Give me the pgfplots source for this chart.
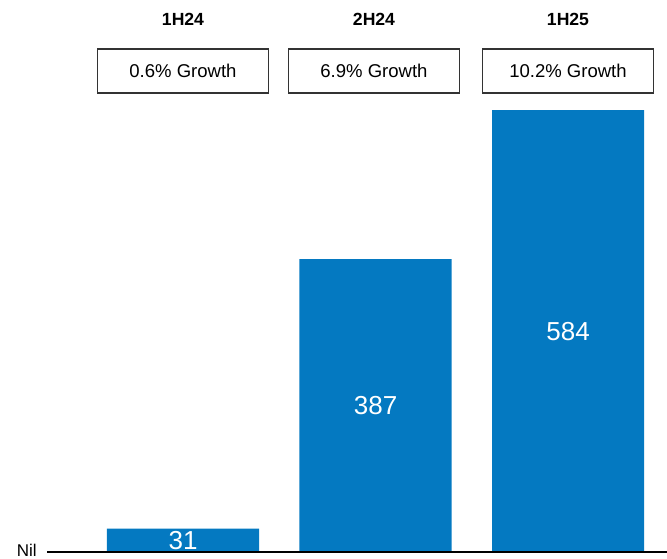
\documentclass[border=0pt]{standalone}
\usepackage{pgfplots}
\pgfplotsset{compat=1.18}
\usepackage{fontspec}
\setmainfont{Liberation Sans}
\definecolor{barblue}{HTML}{0479C1}
\definecolor{boxgray}{HTML}{333333}
\begin{document}
\begin{tikzpicture}
\useasboundingbox (0,0) rectangle (500.25pt,419.25pt);
\begin{axis}[
  at={(35.25pt,5.25pt)}, anchor=south west,
  scale only axis, width=465pt, height=414pt,
  xmin=-0.7065, xmax=2.514, ymin=0, ymax=729.7,
  axis lines=none, clip=false,
  ybar, bar width=0.79,
]
\addplot[fill=barblue, draw=none] coordinates {(0,31) (1,387) (2,584)};
\node[text=white, font=\fontsize{19.5}{21}\selectfont] at (axis cs:0,15.5) {31};
\node[text=white, font=\fontsize{19.5}{21}\selectfont] at (axis cs:1,193.5) {387};
\node[text=white, font=\fontsize{19.5}{21}\selectfont] at (axis cs:2,292) {584};
\end{axis}
% baseline
\draw[black, line width=1.6pt] (35.25pt,5.25pt) -- (500.25pt,5.25pt);
\node[anchor=base east, font=\fontsize{12.75}{14}\selectfont, inner sep=0pt] at (27.75pt,1.5pt) {Nil};
% headers and boxes
\foreach \cx/\hd/\gr in {183/1H24/0.6\% Growth, 374/2H24/6.9\% Growth, 568/1H25/10.2\% Growth}{
  \node[font=\bfseries\fontsize{13.2}{15}\selectfont] at ({\cx*0.75pt},{(559-19)*0.75pt}) {\hd};
  \draw[boxgray, line width=0.9pt] ({(\cx-85.5)*0.75pt},{(559-49)*0.75pt}) rectangle ({(\cx+85.5)*0.75pt},{(559-93)*0.75pt});
  \node[font=\fontsize{13.9}{16}\selectfont] at ({\cx*0.75pt},{(559-71)*0.75pt}) {\gr};
}
\end{tikzpicture}
\end{document}
